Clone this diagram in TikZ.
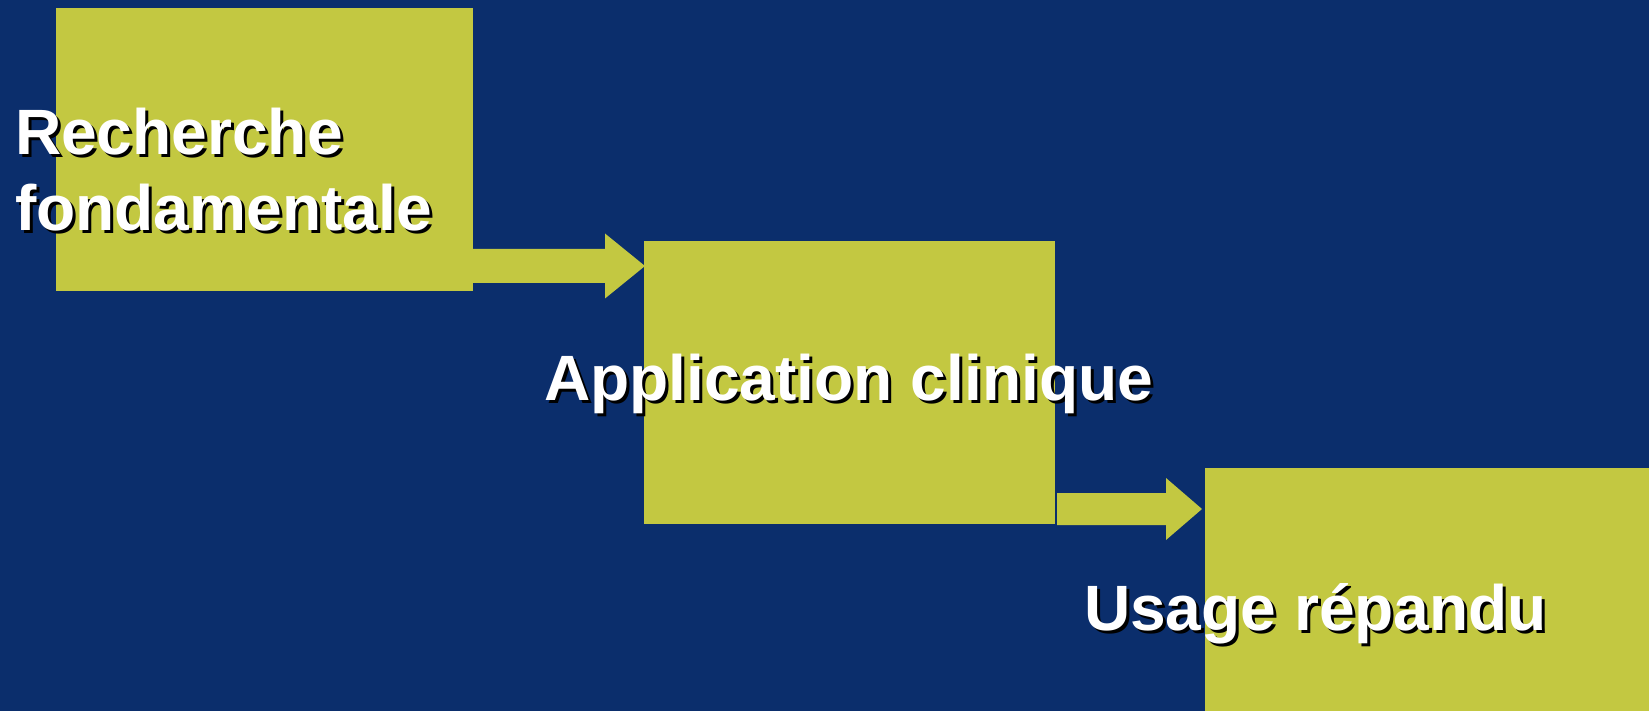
\documentclass[tikz,border=0pt]{standalone}
\usepackage{fontspec}
\setmainfont{Liberation Sans}
\usetikzlibrary{calc}
\definecolor{bgnavy}{RGB}{11,46,108}
\definecolor{boxolive}{RGB}{195,200,65}
\begin{document}
\begin{tikzpicture}[x=1pt,y=-1pt,
  box/.style={fill=boxolive, inner sep=0pt, outer sep=0pt, anchor=north west},
  lbl/.style={inner sep=0pt, outer sep=0pt, anchor=base west, text=white,
    font=\fontsize{64.1}{76}\selectfont\bfseries},
  shd/.style={lbl, text=black},
  blockarrow/.style={fill=boxolive}]
\fill[bgnavy] (0,0) rectangle (1649,711);
\useasboundingbox (0,0) rectangle (1649,711);
% boxes
\node[box, minimum width=417pt, minimum height=283pt] (b1) at (56,8) {};
\node[box, minimum width=411pt, minimum height=283pt] (b2) at (644,241) {};
\node[box, minimum width=444pt, minimum height=243pt] (b3) at (1205,468) {};
% arrow 1
\coordinate (a1s) at ($(b1.north east)+(0,258)$);
\coordinate (a1e) at ($(b2.north west)+(1,25)$);
\fill[blockarrow] ($(a1s)+(0,-17)$) -- ($(a1e)+(-40,-17)$) -- ($(a1e)+(-40,-32.5)$)
  -- (a1e) -- ($(a1e)+(-40,32.5)$) -- ($(a1e)+(-40,17)$) -- ($(a1s)+(0,17)$) -- cycle;
% arrow 2
\coordinate (a2s) at ($(b2.south east)+(2,-15)$);
\coordinate (a2e) at ($(b3.north west)+(-3,41)$);
\fill[blockarrow] ($(a2s)+(0,-16)$) -- ($(a2e)+(-36,-16)$) -- ($(a2e)+(-36,-31)$)
  -- (a2e) -- ($(a2e)+(-36,31)$) -- ($(a2e)+(-36,16)$) -- ($(a2s)+(0,16)$) -- cycle;
% labels (shadow then text)
\node[shd] (t1s) at (18,158) {Recherche};
\node[lbl] (t1) at (15,155) {Recherche};
\node[shd] (t2s) at (18,234) {fondamentale};
\node[lbl] (t2) at (15,231) {fondamentale};
\node[shd] (t3s) at (547,403) {Application clinique};
\node[lbl] (t3) at (544,400) {Application clinique};
\node[shd] (t4s) at (1087,633) {Usage répandu};
\node[lbl] (t4) at (1084,630) {Usage répandu};
\end{tikzpicture}
\end{document}
